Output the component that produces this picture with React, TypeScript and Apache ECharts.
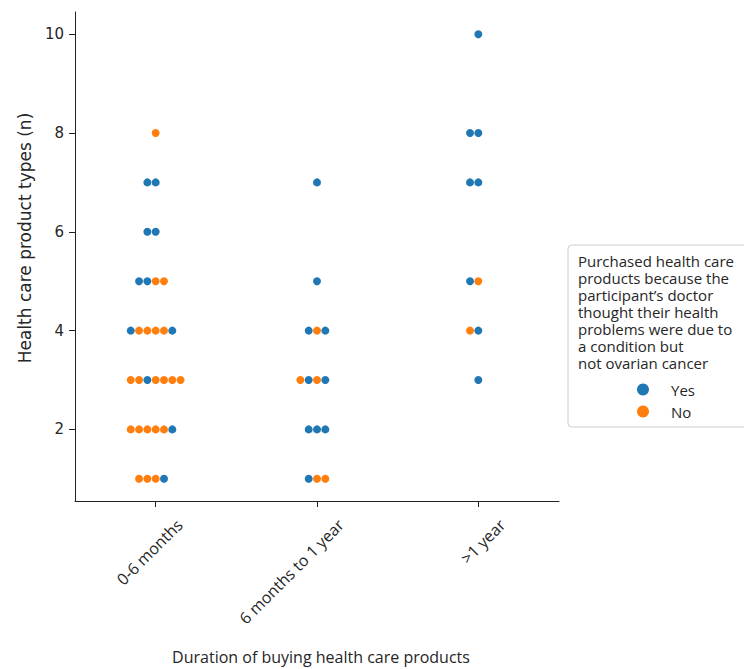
import React, { useEffect, useRef } from "react";
import * as echarts from "echarts";

const categories = ["0-6 months", "6 months to 1 year", ">1 year"];
const yTicks = [2, 4, 6, 8, 10];
// Each row: [health care product types, hue sequence left→right] (Y = Yes, N = No)
const swarm06: [number, string][] = [
  [1, "NNNY"],
  [2, "NNNNNY"],
  [3, "NNYNNNN"],
  [4, "YNNNNY"],
  [5, "YYNN"],
  [6, "YY"],
  [7, "YY"],
  [8, "N"],
];
const swarm6m1y: [number, string][] = [
  [1, "YNN"],
  [2, "YYY"],
  [3, "NYNY"],
  [4, "YNY"],
  [5, "Y"],
  [7, "Y"],
];
const swarmOver1y: [number, string][] = [
  [3, "Y"],
  [4, "NY"],
  [5, "YN"],
  [7, "YY"],
  [8, "YY"],
  [10, "Y"],
];
const swarms = [swarm06, swarm6m1y, swarmOver1y];
const legendTitle =
  "Purchased health care\nproducts because the\nparticipant\u2019s doctor\nthought their health\nproblems were due to\na condition but\nnot ovarian cancer";

const BLUE = "#1f77b4";
const ORANGE = "#ff7f0e";
const TEXT = "#262626";
const SPACING = 0.0515; // swarm dot spacing in category units

function buildPoints(hue: string): number[][] {
  const pts: number[][] = [];
  swarms.forEach((rows, ci) => {
    rows.forEach(([y, seq]) => {
      const start = -Math.floor(seq.length / 2);
      for (let j = 0; j < seq.length; j++) {
        if (seq[j] === hue) pts.push([ci + (start + j) * SPACING, y]);
      }
    });
  });
  return pts;
}

export default function App() {
  const ref = useRef<HTMLDivElement>(null);
  useEffect(() => {
    if (!ref.current) return;
    const chart = echarts.init(ref.current, null, { renderer: "svg" });
    const axisLineStyle = { color: "#222", width: 1 };
    chart.setOption({
      animation: false,
      grid: [
        { left: 75, right: 185, top: 12, bottom: 168 },
        { left: 99, right: 161, top: 12, bottom: 168 },
      ],
      xAxis: [
        {
          type: "category",
          gridIndex: 0,
          data: categories,
          boundaryGap: true,
          axisLine: { show: true, onZero: false, lineStyle: axisLineStyle },
          axisTick: { show: true, alignWithLabel: true, length: 6, lineStyle: axisLineStyle },
          axisLabel: { show: false },
          splitLine: { show: false },
        },
        { type: "value", gridIndex: 0, min: -0.5, max: 2.5, show: false },
        {
          type: "category",
          gridIndex: 1,
          data: categories,
          axisLine: { show: false, onZero: false },
          axisTick: { show: false },
          splitLine: { show: false },
          axisLabel: {
            interval: 0,
            rotate: 45,
            margin: 21,
            fontFamily: "Open Sans",
            fontSize: 16,
            color: TEXT,
          },
        },
      ],
      yAxis: [
        {
          type: "value",
          gridIndex: 0,
          min: 0.55,
          max: 10.45,
          axisLine: { show: true, onZero: false, lineStyle: axisLineStyle },
          axisTick: { show: true, length: 6, lineStyle: axisLineStyle, customValues: yTicks },
          axisLabel: {
            customValues: yTicks,
            margin: 11,
            fontFamily: "DejaVu Sans",
            fontSize: 15,
            color: TEXT,
          },
          splitLine: { show: false },
        },
        { type: "value", gridIndex: 1, show: false },
      ],
      legend: {
        data: ["Yes", "No"],
        orient: "vertical",
        left: 637,
        top: 382,
        padding: 0,
        itemWidth: 12,
        itemHeight: 12,
        itemGap: 7,
        icon: "circle",
        textStyle: { fontFamily: "Open Sans", fontSize: 15, color: TEXT, padding: [0, 0, 0, 17] },
      },
      graphic: [
        {
          type: "rect",
          shape: { x: 568, y: 245, width: 200, height: 182, r: 4 },
          style: { fill: "#fff", stroke: "#cccccc", lineWidth: 1 },
          z: -1,
        },
        {
          type: "text",
          x: 578,
          y: 252,
          style: {
            text: legendTitle,
            fontFamily: "Open Sans",
            fontSize: 15,
            lineHeight: 17,
            fill: TEXT,
            textAlign: "left",
            textVerticalAlign: "top",
          },
        },
        {
          type: "text",
          x: 25,
          y: 238,
          rotation: Math.PI / 2,
          style: {
            text: "Health care product types (n)",
            fontFamily: "DejaVu Sans",
            fontSize: 17,
            fill: TEXT,
            textAlign: "center",
            textVerticalAlign: "middle",
          },
        },
        {
          type: "text",
          x: 321,
          y: 657,
          style: {
            text: "Duration of buying health care products",
            fontFamily: "Open Sans",
            fontSize: 16,
            fill: TEXT,
            textAlign: "center",
            textVerticalAlign: "middle",
          },
        },
      ],
      series: [
        {
          name: "Yes",
          type: "scatter",
          xAxisIndex: 1,
          yAxisIndex: 0,
          symbolSize: 8,
          itemStyle: { color: BLUE, opacity: 1 },
          data: buildPoints("Y"),
        },
        {
          name: "No",
          type: "scatter",
          xAxisIndex: 1,
          yAxisIndex: 0,
          symbolSize: 8,
          itemStyle: { color: ORANGE, opacity: 1 },
          data: buildPoints("N"),
        },
      ],
    });
    return () => chart.dispose();
  }, []);
  return (
    <div
      ref={ref}
      style={{ position: "fixed", left: 0, top: 0, width: 744, height: 669, background: "#fff" }}
    />
  );
}
